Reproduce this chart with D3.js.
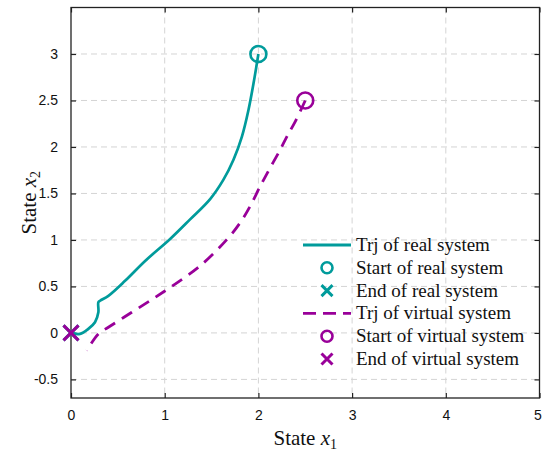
<!DOCTYPE html>
<html>
<head>
<meta charset="utf-8">
<script src="https://cdn.jsdelivr.net/npm/d3@7"></script>
<style>
  body { margin: 0; background: #fff; }
  svg { display: block; }
</style>
</head>
<body>
<div id="chart"></div>
<script>
// trajectory of the real system (x1, x2)
const realX1 = [2.00, 1.948, 1.894, 1.824, 1.734, 1.627, 1.485, 1.271, 1.058, 0.791, 0.577, 0.399, 0.31, 0.292, 0.292, 0.256, 0.185, 0.096, 0.0];
const realX2 = [3.00, 2.685, 2.398, 2.112, 1.863, 1.649, 1.440, 1.221, 1.010, 0.774, 0.560, 0.399, 0.346, 0.329, 0.222, 0.115, 0.043, -0.011, 0.0];

// trajectory of the virtual system
const virtX1 = [2.50, 2.393, 2.304, 2.233, 2.126, 2.019, 1.912, 1.806, 1.660, 1.378, 1.111, 0.897, 0.649, 0.399, 0.292, 0.168];
const virtX2 = [2.50, 2.273, 2.112, 1.970, 1.777, 1.577, 1.363, 1.186, 1.000, 0.721, 0.525, 0.382, 0.222, 0.061, -0.011, -0.19];

const realStart = [2, 3], realEnd = [0, 0];
const virtStart = [2.5, 2.5], virtEnd = [0, 0];

const xTicks = [0, 1, 2, 3, 4, 5];
const yTicks = [-0.5, 0, 0.5, 1, 1.5, 2, 2.5, 3];

const legendLabels = ["Trj of real system", "Start of real system", "End of real system",
  "Trj of virtual system", "Start of virtual system", "End of virtual system"];

const teal = "#009b9b", purple = "#990099";

const width = 542, height = 451;
const margin = { top: 7.5, right: 2.5, bottom: 53, left: 71 };

const svg = d3.select("#chart").append("svg")
  .attr("width", width)
  .attr("height", height);

const x = d3.scaleLinear().domain([0, 5]).range([margin.left, width - margin.right]);
const y = d3.scaleLinear().domain([-0.7, 3.5]).range([height - margin.bottom, margin.top]);

// grid
const grid = svg.append("g")
  .attr("stroke", "#d4d4d4")
  .attr("stroke-width", 1)
  .attr("stroke-dasharray", "6,4");
grid.selectAll(".gx").data(xTicks.slice(1, -1)).join("line")
  .attr("x1", d => x(d)).attr("x2", d => x(d))
  .attr("y1", y(3.5)).attr("y2", y(-0.7));
grid.selectAll(".gy").data(yTicks).join("line")
  .attr("y1", d => y(d)).attr("y2", d => y(d))
  .attr("x1", x(0)).attr("x2", x(5));

// axes with inward ticks on all four sides
const tickLen = 5;
const fmt = d => String(d).replace("−", "-");
const axisStyle = g => g
  .call(g => g.select(".domain").remove())
  .call(g => g.selectAll("line").attr("stroke", "#222").attr("stroke-width", 1.2))
  .call(g => g.selectAll("text").attr("font-family", "Liberation Sans, Arial, sans-serif")
    .attr("font-size", 14).attr("fill", "#111"));

svg.append("g")
  .attr("transform", `translate(0,${y(-0.7)})`)
  .call(d3.axisBottom(x).tickValues(xTicks).tickSizeInner(-tickLen).tickSizeOuter(0).tickPadding(12)
    .tickFormat(fmt))
  .call(axisStyle)
  .call(g => g.select(".tick:last-of-type text").attr("dx", -2));
svg.append("g")
  .attr("transform", `translate(0,${y(3.5)})`)
  .call(d3.axisTop(x).tickValues(xTicks).tickSizeInner(-tickLen).tickSizeOuter(0).tickFormat(""))
  .call(axisStyle);
svg.append("g")
  .attr("transform", `translate(${x(0)},0)`)
  .call(d3.axisLeft(y).tickValues(yTicks).tickSizeInner(-tickLen).tickSizeOuter(0).tickPadding(13)
    .tickFormat(fmt))
  .call(axisStyle);
svg.append("g")
  .attr("transform", `translate(${x(5)},0)`)
  .call(d3.axisRight(y).tickValues(yTicks).tickSizeInner(-tickLen).tickSizeOuter(0).tickFormat(""))
  .call(axisStyle);

// box
svg.append("rect")
  .attr("x", x(0)).attr("y", y(3.5))
  .attr("width", x(5) - x(0)).attr("height", y(-0.7) - y(3.5))
  .attr("fill", "none").attr("stroke", "#222").attr("stroke-width", 1.3);

// trajectories
const line = d3.line()
  .curve(d3.curveCatmullRom.alpha(0.5))
  .x(d => x(d[0]))
  .y(d => y(d[1]));

const realPts = d3.zip(realX1, realX2);
const virtPts = d3.zip(virtX1, virtX2);

svg.append("path")
  .datum(realPts)
  .attr("fill", "none")
  .attr("stroke", teal)
  .attr("stroke-width", 2.7)
  .attr("stroke-linejoin", "round")
  .attr("d", line);

svg.append("path")
  .datum(virtPts)
  .attr("fill", "none")
  .attr("stroke", purple)
  .attr("stroke-width", 2.8)
  .attr("stroke-dasharray", "12,8")
  .attr("d", line);

// markers
function circleMark(g, cx, cy, r, color) {
  g.append("circle").attr("cx", cx).attr("cy", cy).attr("r", r)
    .attr("fill", "none").attr("stroke", color).attr("stroke-width", 2.6);
}
function crossMark(g, cx, cy, h, color) {
  g.append("path")
    .attr("d", `M${cx - h},${cy - h}L${cx + h},${cy + h}M${cx - h},${cy + h}L${cx + h},${cy - h}`)
    .attr("stroke", color).attr("stroke-width", 3).attr("fill", "none");
}

circleMark(svg, x(realStart[0]), y(realStart[1]), 8, teal);
crossMark(svg, x(realEnd[0]), y(realEnd[1]), 7.5, teal);
circleMark(svg, x(virtStart[0]), y(virtStart[1]), 8, purple);
crossMark(svg, x(virtEnd[0]), y(virtEnd[1]), 7.5, purple);

// legend
const legend = svg.append("g");
const rowY = i => 245 + i * 22.8;
legendLabels.forEach((label, i) => {
  const cy = rowY(i);
  const color = i < 3 ? teal : purple;
  const kind = i % 3;
  if (kind === 0) {
    legend.append("line")
      .attr("x1", 303).attr("x2", 351).attr("y1", cy).attr("y2", cy)
      .attr("stroke", color).attr("stroke-width", 2.8)
      .attr("stroke-dasharray", i === 3 ? "13,7" : null);
  } else if (kind === 1) {
    circleMark(legend, 327, cy, 5.5, color);
  } else {
    crossMark(legend, 327, cy, 5.5, color);
  }
  legend.append("text")
    .attr("x", 356).attr("y", cy + 6)
    .attr("font-family", "Liberation Serif, Times New Roman, serif")
    .attr("font-size", 19)
    .attr("fill", "#111")
    .text(label);
});

// axis labels
const xl = svg.append("text")
  .attr("x", (x(0) + x(5)) / 2).attr("y", 445)
  .attr("text-anchor", "middle")
  .attr("font-family", "Liberation Serif, Times New Roman, serif")
  .attr("font-size", 21)
  .attr("fill", "#111");
xl.append("tspan").text("State ");
xl.append("tspan").attr("font-style", "italic").text("x");
xl.append("tspan").attr("font-size", 14).attr("dy", 4).text("1");

const yl = svg.append("text")
  .attr("transform", `translate(36,${(y(3.5) + y(-0.7)) / 2}) rotate(-90)`)
  .attr("text-anchor", "middle")
  .attr("font-family", "Liberation Serif, Times New Roman, serif")
  .attr("font-size", 21)
  .attr("fill", "#111");
yl.append("tspan").text("State ");
yl.append("tspan").attr("font-style", "italic").text("x");
yl.append("tspan").attr("font-size", 14).attr("dy", 4).text("2");
</script>
</body>
</html>
